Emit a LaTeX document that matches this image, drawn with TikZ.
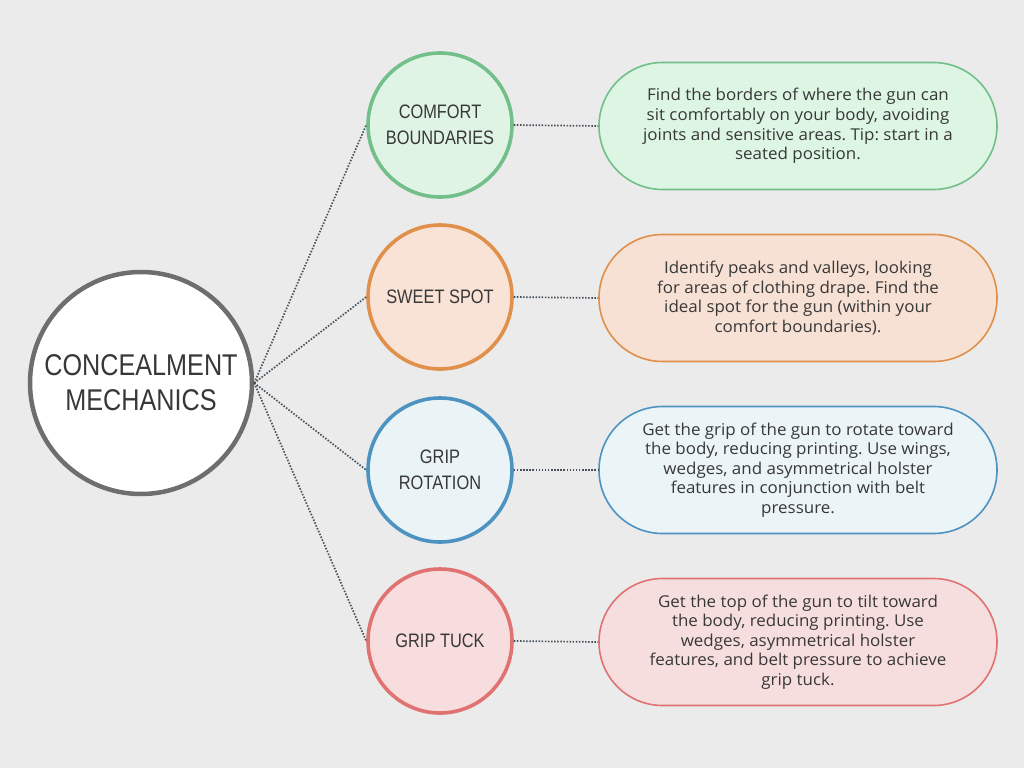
\documentclass[tikz,border=0pt]{standalone}
\usepackage{fontspec}
\setmainfont{Open Sans}
\newfontfamily\headfont[FakeStretch=0.84]{Liberation Sans}
\newfontfamily\bodyfont[FakeStretch=1.04]{Open Sans}
\usetikzlibrary{shapes.misc}
\frenchspacing
\begin{document}
\begin{tikzpicture}[x=1pt,y=-1pt,
  txt/.style={text=black!78},
  hub/.style={circle, draw=black!57, line width=4.5pt, fill=white, minimum size=222pt, inner sep=0pt,
     font=\headfont\fontsize{30}{35}\selectfont, align=center, txt},
  topic/.style={circle, line width=3.6pt, minimum size=144pt, inner sep=0pt,
     font=\headfont\fontsize{19.5}{26}\selectfont, align=center, txt},
  info/.style={rounded rectangle, line width=1.6pt, minimum width=398pt, minimum height=127pt, inner sep=0pt,
     font=\bodyfont\frenchspacing\fontsize{16.3}{19.6}\selectfont, align=center, txt},
  link/.style={draw=linkc, line width=1.7pt, dash pattern=on 1.5pt off 1.6pt}
]
\definecolor{linkc}{HTML}{46505A}
\definecolor{bg}{HTML}{EBEBEB}
\definecolor{gS}{HTML}{72BF8A}\definecolor{gF}{HTML}{E0F4E6}\definecolor{gB}{HTML}{DDF5E3}
\definecolor{oS}{HTML}{E0904A}\definecolor{oF}{HTML}{F9E2D6}\definecolor{oB}{HTML}{F7E0D4}
\definecolor{bS}{HTML}{4D93C2}\definecolor{bF}{HTML}{EAF4F7}\definecolor{bB}{HTML}{EBF4F7}
\definecolor{rS}{HTML}{E07272}\definecolor{rF}{HTML}{F7DDDD}\definecolor{rB}{HTML}{F7DEDE}
\fill[bg] (0,0) rectangle (1024,768);
\useasboundingbox (0,0) rectangle (1024,768);

\node[hub] (hub) at (141,383) {CONCEALMENT\\MECHANICS};

\node[topic, draw=gS, fill=gF] (t1) at (440,125) {COMFORT\\BOUNDARIES};
\node[topic, draw=oS, fill=oF] (t2) at (440,297) {SWEET SPOT};
\node[topic, draw=bS, fill=bF] (t3) at (440,470) {GRIP\\ROTATION};
\node[topic, draw=rS, fill=rF] (t4) at (440,641) {GRIP TUCK};

\node[info, draw=gS, fill=gB] (d1) at (798,126) {Find the borders of where the gun can\\sit comfortably on your body, avoiding\\joints and sensitive areas. Tip: start in a\\seated position.};
\node[info, draw=oS, fill=oB] (d2) at (798,298) {Identify peaks and valleys, looking\\for areas of clothing drape. Find the\\ideal spot for the gun (within your\\comfort boundaries).};
\node[info, draw=bS, fill=bB] (d3) at (798,470) {Get the grip of the gun to rotate toward\\the body, reducing printing. Use wings,\\wedges, and asymmetrical holster\\features in conjunction with belt\\pressure.};
\node[info, draw=rS, fill=rB] (d4) at (798,642) {Get the top of the gun to tilt toward\\the body, reducing printing. Use\\wedges, asymmetrical holster\\features, and belt pressure to achieve\\grip tuck.};

\foreach \i in {1,...,4}{
  \draw[link] (hub.east) -- (t\i.west);
  \draw[link] (t\i.east) -- (d\i.west);
}
\end{tikzpicture}
\end{document}
